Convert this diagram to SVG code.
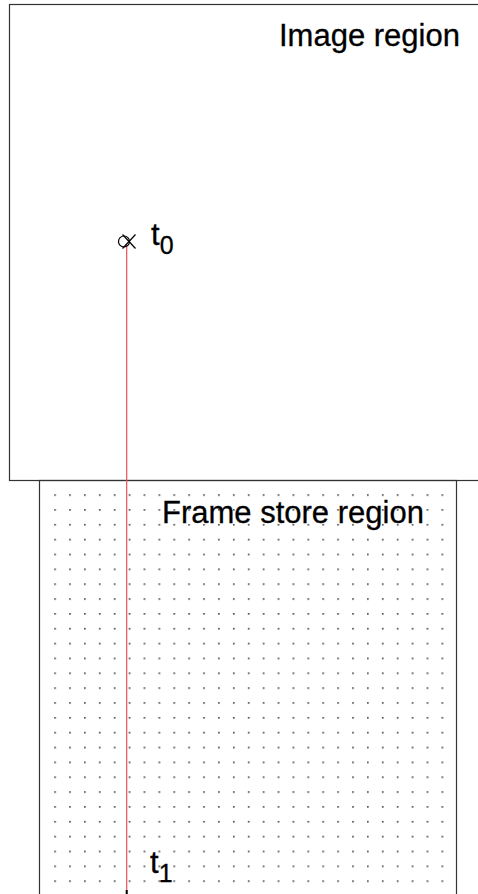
<svg xmlns="http://www.w3.org/2000/svg" width="478" height="894" viewBox="0 0 478 894">
<style>
.frame{fill:none;stroke:#333;stroke-width:1.2}
.lbl{font-family:"Liberation Sans",Arial,sans-serif;font-size:31px;fill:#000;stroke:#000;stroke-width:0.3}
.sub{font-size:25px}
.mk{fill:none;stroke:#000;stroke-width:1.2}
</style>
<defs>
<pattern id="dots" patternUnits="userSpaceOnUse" x="54.2" y="494.2" width="14.895" height="14.85">
<rect x="0" y="0" width="1.7" height="1.7" fill="#555"/>
</pattern>
</defs>
<rect width="478" height="894" fill="#fff"/>
<g id="image-region">
<rect class="frame" x="9.5" y="4.5" width="480" height="476"/>
<text class="lbl" x="279" y="46">Image region</text>
</g>
<g id="frame-store-region">
<rect class="frame" x="39.5" y="480.5" width="417" height="420"/>
<rect x="53" y="493" width="392" height="401" fill="url(#dots)"/>
<text class="lbl" x="162" y="523">Frame store region</text>
</g>
<g id="connectors">
<line x1="126.7" y1="245" x2="126.7" y2="894" stroke="#e8505c" stroke-width="1.2"/>
<line x1="126.7" y1="890" x2="126.7" y2="894" stroke="#000" stroke-width="2"/>
</g>
<g id="t0">
<circle class="mk" cx="124" cy="241.5" r="5.5"/>
<line class="mk" x1="122.5" y1="234.5" x2="135.5" y2="248.5"/>
<line class="mk" x1="122.5" y1="248.5" x2="135.5" y2="234.5"/>
<text class="lbl" x="151" y="245">t<tspan class="sub" dy="9">0</tspan></text>
</g>
<g id="t1">
<text class="lbl" x="150" y="872.5">t<tspan class="sub" dy="9">1</tspan></text>
</g>
</svg>
